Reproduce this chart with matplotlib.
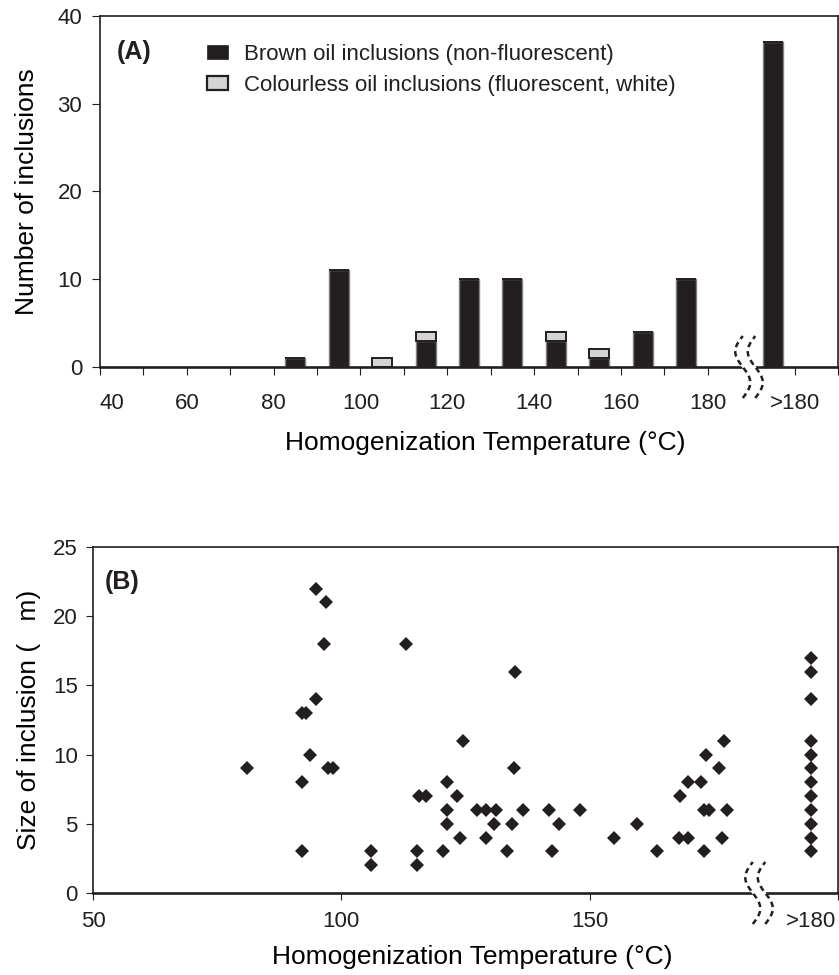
import numpy as np
import matplotlib
matplotlib.use("Agg")
import matplotlib.pyplot as plt
import matplotlib.transforms as mtransforms
from matplotlib.patches import Patch

# ---- data: panel A (histogram of homogenization temperatures) ----
bin_temps = [85, 95, 105, 115, 125, 135, 145, 155, 165, 175, 195]   # 195 = ">180" bin
brown_counts = [1, 11, 0, 3, 10, 10, 3, 1, 4, 10, 37]
colourless_counts = [0, 0, 1, 1, 0, 0, 1, 1, 0, 0, 0]
a_tick_vals = [40, 60, 80, 100, 120, 140, 160, 180, 200]
a_tick_labels = ["40", "60", "80", "100", "120", "140", "160", "180", ">180"]

# ---- data: panel B (inclusion size vs temperature) ----
b_temps = [81, 92, 92, 92.1, 92.9, 93.7, 94.9, 94.9, 96.5, 96.9, 97.3, 98.3,
           106, 106, 113, 115.3, 115.3, 115.7, 117, 120.5, 121.2, 121.2, 121.2,
           123.2, 123.8, 124.5, 127.4, 129.2, 131.2, 129.2, 130.7, 133.3, 134.4,
           134.7, 134.9, 136.5, 141.8, 142.4, 143.8, 148, 154.8, 159.5, 163.6,
           167.9, 168.1, 169.7, 169.7, 172.5, 173, 174, 173, 173.5, 176.1, 176.6,
           177, 177.7]
b_sizes = [9, 8, 3, 13, 13, 10, 22, 14, 18, 21, 9, 9,
           3, 2, 18, 3, 2, 7, 7, 3, 8, 6, 5,
           7, 4, 11, 6, 6, 6, 4, 5, 3, 5,
           9, 16, 6, 6, 3, 5, 6, 4, 5, 3,
           4, 7, 8, 4, 8, 6, 6, 3, 10, 9, 4,
           11, 6]
over180_pos = 194.5
over180_sizes = [3, 4, 5, 6, 7, 8, 9, 10, 11, 14, 16, 17]

DARK = "#231f20"
plt.rcParams["font.family"] = ["Liberation Sans", "DejaVu Sans"]
plt.rcParams["text.color"] = DARK
plt.rcParams["axes.edgecolor"] = DARK
plt.rcParams["xtick.color"] = DARK
plt.rcParams["ytick.color"] = DARK

W, H = 839, 975
fig = plt.figure(figsize=(W / 100, H / 100), dpi=100)


def px_axes(left, top, right, bottom):
    return fig.add_axes([left / W, 1 - bottom / H, (right - left) / W, (bottom - top) / H])


def draw_break(ax, xd, half_h=0.31, amp=0.075, gap=0.125):
    # wavy double "break" mark on the x axis, sizes in inches
    trans = fig.dpi_scale_trans + mtransforms.ScaledTranslation(xd, 0, ax.transData)
    t = np.linspace(-1, 1, 80)
    y = half_h * t
    wave = -amp * np.sin(np.pi * t)
    x1 = -gap / 2 + wave
    x2 = gap / 2 + wave
    ax.fill(np.r_[x1, x2[::-1]], np.r_[y, y[::-1]], color="white",
            transform=trans, clip_on=False, zorder=5)
    for xx in (x1, x2):
        ax.plot(xx, y, color=DARK, lw=1.8, ls=(0, (2.2, 1.6)),
                transform=trans, clip_on=False, zorder=6)


# ================= panel A =================
axA = px_axes(100, 15.7, 838, 367)
axA.bar(bin_temps, brown_counts, width=4.6, color=DARK, edgecolor="#808080",
        linewidth=1.0, zorder=2)
axA.bar(bin_temps, colourless_counts, width=4.6, bottom=brown_counts,
        color="#d4d4d4", edgecolor=DARK, linewidth=1.4, zorder=2)

axA.set_xlim(40, 210)
axA.set_ylim(0, 40)
axA.set_yticks([0, 10, 20, 30, 40])
axA.set_xticks(a_tick_vals)
axA.set_xticklabels(a_tick_labels)
axA.set_xticks([50, 70, 90, 110, 130, 150, 170, 210], minor=True)
axA.tick_params(axis="x", which="both", direction="out", length=5.8, width=0.8,
                labelsize=16, pad=13)
axA.tick_params(axis="y", direction="out", length=5.8, width=0.8,
                labelsize=16, pad=7)
axA.get_xticklabels()[0].set_horizontalalignment("left")
for side in ("left", "top", "right"):
    axA.spines[side].set_linewidth(1.2)
axA.spines["bottom"].set_linewidth(1.9)

axA.set_xlabel("Homogenization Temperature (°C)", fontsize=19, va="top")
axA.xaxis.set_label_coords(0.5217, -0.182)
axA.set_ylabel("Number of inclusions", fontsize=19)
axA.yaxis.set_label_coords(-0.082, 0.5)

axA.text(17 / 738, 1 - 36 / 351.3, "(A)", transform=axA.transAxes,
         fontsize=18, fontweight="bold", va="center", ha="left")

handles = [Patch(facecolor=DARK, edgecolor=DARK, linewidth=0.5),
           Patch(facecolor="#d4d4d4", edgecolor=DARK, linewidth=1.6)]
axA.legend(handles, ["Brown oil inclusions (non-fluorescent)",
                     "Colourless oil inclusions (fluorescent, white)"],
           loc="upper left", bbox_to_anchor=(207 / W, 1 - 44 / H),
           bbox_transform=fig.transFigure, frameon=False, fontsize=16,
           borderpad=0, borderaxespad=0, handlelength=0.95, handleheight=0.6,
           handletextpad=0.7, labelspacing=0.45)

draw_break(axA, 189.5)

# ================= panel B =================
axB = px_axes(93, 547, 838, 893)
axB.plot(b_temps, b_sizes, ls="none", marker="D", ms=7.3, color=DARK,
         markeredgewidth=0, zorder=3)
axB.plot([over180_pos] * len(over180_sizes), over180_sizes, ls="none",
         marker="D", ms=7.3, color=DARK, markeredgewidth=0, zorder=3)

axB.set_xlim(50, 200)
axB.set_ylim(0, 25)
axB.set_yticks([0, 5, 10, 15, 20, 25])
axB.set_xticks([50, 100, 150, 200])
axB.set_xticklabels(["50", "100", "150", ""])
axB.set_xticks([over180_pos], minor=True)
axB.set_xticklabels([">180"], minor=True)
axB.tick_params(axis="x", which="major", direction="out", length=5, width=0.8,
                labelsize=16, pad=8)
axB.tick_params(axis="x", which="minor", length=0, labelsize=16, pad=13)
axB.tick_params(axis="y", direction="out", length=5, width=0.8,
                labelsize=16, pad=6)
for side in ("left", "top", "right"):
    axB.spines[side].set_linewidth(1.2)
axB.spines["bottom"].set_linewidth(1.9)

axB.set_xlabel("Homogenization Temperature (°C)", fontsize=19, va="top")
axB.xaxis.set_label_coords(0.509, -0.150)
axB.set_ylabel("Size of inclusion (   m)", fontsize=19)
axB.yaxis.set_label_coords(-0.07, 0.5)

axB.text(12 / 745, 1 - 35 / 346, "(B)", transform=axB.transAxes,
         fontsize=18, fontweight="bold", va="center", ha="left")

draw_break(axB, 184.1)

fig.savefig("out.png", dpi=100)
